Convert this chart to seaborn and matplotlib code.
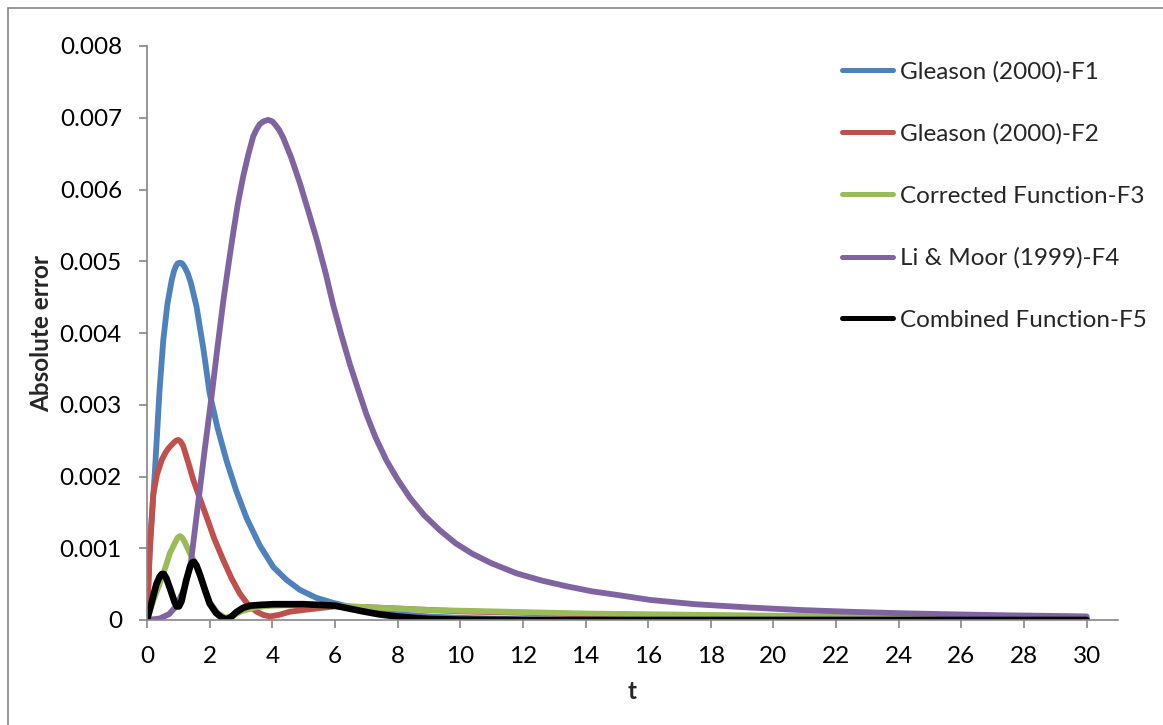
import matplotlib
matplotlib.use("Agg")
import matplotlib.pyplot as plt
import seaborn as sns
from matplotlib.lines import Line2D

# values (t, absolute error)
t_f1 = [0, 0.1, 0.25, 0.4, 0.52, 0.65, 0.79, 0.86, 0.92, 0.98, 1.05, 1.12, 1.2, 1.3, 1.4, 1.58,
        1.8, 2.0, 2.25, 2.54, 2.85, 3.18, 3.6, 4.03, 4.45, 4.88, 5.4, 5.93, 6.5, 7, 8, 9, 10, 12,
        15, 20, 25, 30]
f1 = [0, 0.0011, 0.00205, 0.0032, 0.0039, 0.0044, 0.00474, 0.00486, 0.00493, 0.00497, 0.00498,
      0.00497, 0.00492, 0.00483, 0.0047, 0.00437, 0.00378, 0.00316, 0.00268, 0.00222, 0.0018,
      0.00142, 0.00104, 0.00074, 0.00056, 0.00042, 0.00031, 0.00024, 0.00018, 0.00014, 0.00008,
      0.00005, 0.00003, 0.00001, 0, 0, 0, 0]

t_f2 = [0, 0.08, 0.2, 0.32, 0.47, 0.6, 0.7, 0.85, 0.93, 1.0, 1.07, 1.15, 1.3, 1.48, 1.7, 1.9,
        2.15, 2.43, 2.7, 2.96, 3.25, 3.5, 3.72, 3.92, 4.2, 4.56, 5.0, 5.4, 6.0, 7, 8, 10, 12, 14,
        16, 20, 25, 30]
f2 = [0, 0.0009, 0.00175, 0.00203, 0.00223, 0.00234, 0.0024, 0.00247, 0.0025, 0.00251, 0.00249,
      0.00243, 0.00222, 0.00195, 0.00168, 0.00144, 0.00113, 0.00084, 0.00058, 0.00037, 0.0002,
      0.000116, 0.00007, 0.00005, 0.00007, 0.000116, 0.00014, 0.00016, 0.00019, 0.00018, 0.00016,
      0.00012, 0.0001, 0.00008, 0.00007, 0.00005, 0.00003, 0.00002]

t_f3 = [0, 0.2, 0.41, 0.6, 0.73, 0.9, 0.98, 1.05, 1.12, 1.2, 1.37, 1.53, 1.69, 1.85, 2.0, 2.25,
        2.5, 2.75, 3.0, 3.5, 4.0, 5.0, 6.0, 7, 8, 9, 10, 12, 14, 16, 18, 20, 22, 24, 26, 28, 30]
f3 = [0, 0.00027, 0.00051, 0.00075, 0.00093, 0.00108, 0.00115, 0.00117, 0.00115, 0.00109,
      0.00093, 0.0008, 0.00062, 0.00042, 0.00025, 0.0001, 0.00003, 0.00006, 0.00012, 0.00018,
      0.0002, 0.00021, 0.0002, 0.00018, 0.00016, 0.00014, 0.00013, 0.00011, 0.00009, 0.00008,
      0.00007, 0.00006, 0.00005, 0.000045, 0.00004, 0.000035, 0.00003]

t_f4 = [0, 0.4, 0.7, 0.95, 1.2, 1.4, 1.64, 1.85, 2.06, 2.25, 2.44, 2.6, 2.75, 2.9, 3.07, 3.23,
        3.39, 3.5, 3.6, 3.72, 3.87, 4.0, 4.1, 4.22, 4.35, 4.6, 4.88, 5.15, 5.42, 5.7, 5.95, 6.2,
        6.48, 6.75, 7.01, 7.3, 7.65, 8.0, 8.4, 8.85, 9.35, 9.85, 10.4, 11.0, 11.8, 12.6, 13.4,
        14.2, 15.0, 16.06, 17.5, 19.2, 20.8, 22.4, 24, 25.6, 27.5, 30]
f4 = [0, 0.00002, 0.00008, 0.0002, 0.00045, 0.0008, 0.00165, 0.0024, 0.00311, 0.0038, 0.00446,
      0.00495, 0.00539, 0.0058, 0.00618, 0.00648, 0.00674, 0.00684, 0.00691, 0.00695, 0.00697,
      0.00695, 0.0069, 0.00683, 0.00672, 0.00645, 0.00609, 0.0057, 0.0053, 0.00484, 0.00438,
      0.00398, 0.00356, 0.0032, 0.00286, 0.00254, 0.00222, 0.00196, 0.0017, 0.00146, 0.00125,
      0.00107, 0.00092, 0.00079, 0.00065, 0.00055, 0.00047, 0.0004, 0.00035, 0.00028, 0.00022,
      0.000175, 0.00014, 0.000115, 0.000095, 0.00008, 0.000065, 0.00005]

t_f5 = [0, 0.15, 0.3, 0.4, 0.47, 0.54, 0.62, 0.75, 0.88, 0.95, 1.02, 1.1, 1.25, 1.38, 1.44, 1.5,
        1.58, 1.7, 1.85, 2.0, 2.2, 2.4, 2.54, 2.68, 2.85, 3.07, 3.3, 3.6, 4.03, 4.5, 5.0, 5.5,
        6.0, 6.45, 6.9, 7.4, 7.96, 8.5, 9.0, 10, 12, 15, 20, 25, 30]
f5 = [0, 0.00025, 0.0005, 0.0006, 0.00064, 0.00064, 0.00058, 0.00042, 0.00025, 0.00019, 0.00019,
      0.00026, 0.00055, 0.00075, 0.0008, 0.00081, 0.00076, 0.00062, 0.00042, 0.00023, 0.0001,
      0.00003, 0.00001, 0.00004, 0.00011, 0.00017, 0.0002, 0.00021, 0.00022, 0.00022, 0.00022,
      0.00021, 0.0002, 0.00016, 0.00012, 0.00008, 0.00005, 0.00003, 0.000015, 0.000005, 0, 0, 0,
      0, 0]

series = [
    ('Gleason (2000)-F1', t_f1, f1, '#4F81BD', 4.2),
    ('Gleason (2000)-F2', t_f2, f2, '#C0504D', 4.2),
    ('Corrected Function-F3', t_f3, f3, '#9BBB59', 4.2),
    ('Li & Moor (1999)-F4', t_f4, f4, '#8064A2', 4.2),
    ('Combined Function-F5', t_f5, f5, '#000000', 4.8),
]

x_ticks = list(range(0, 31, 2))
y_ticks = [0, 0.001, 0.002, 0.003, 0.004, 0.005, 0.006, 0.007, 0.008]
y_tick_labels = ['0', '0.001', '0.002', '0.003', '0.004', '0.005', '0.006', '0.007', '0.008']

sns.set_theme(style="white")
plt.rcParams['font.family'] = ['Lato', 'DejaVu Sans']

fig = plt.figure(figsize=(11.63, 7.25), dpi=100)
ax = fig.add_axes([147 / 1163, 105 / 725, (1118 - 147) / 1163, (620 - 46) / 725])

for name, tt, vv, color, lw in series:
    sns.lineplot(x=tt, y=vv, ax=ax, color=color, linewidth=lw, label=name,
                 estimator=None, sort=False, solid_capstyle='round', solid_joinstyle='round')

ax.set_xlim(0, 31)
ax.set_ylim(0, 0.008)
ax.set_xticks(x_ticks)
ax.set_yticks(y_ticks)
ax.set_yticklabels(y_tick_labels)

gray = '#868686'
for side in ['top', 'right']:
    ax.spines[side].set_visible(False)
for side in ['left', 'bottom']:
    ax.spines[side].set_color(gray)
    ax.spines[side].set_linewidth(1.2)
ax.tick_params(axis='both', which='major', direction='out', length=6, width=1.2,
               color=gray, labelsize=17.5, labelcolor='black', bottom=True, left=True)
ax.tick_params(axis='x', pad=13)
ax.tick_params(axis='y', pad=12)

ax.set_xlabel('t', fontsize=17.5, fontweight='bold', labelpad=9)
ax.set_ylabel('Absolute error', fontsize=17.5, fontweight='bold', labelpad=5)

handles = [Line2D([0], [0], color=c, linewidth=3.6, solid_capstyle='round') for _, _, _, c, _ in series]
labels = [s[0] for s in series]
ax.legend(handles, labels, loc='upper left', bbox_to_anchor=(842 / 1163, (725 - 61) / 725),
          bbox_transform=fig.transFigure, frameon=False, fontsize=17.5, borderpad=0,
          borderaxespad=0, handlelength=2.1, handletextpad=0.3, labelspacing=1.68)

# chart-area border (only top and left edges fall inside the picture)
fig.add_artist(Line2D([8 / 1163, 1.0], [1 - 8 / 725, 1 - 8 / 725], transform=fig.transFigure,
                      color=gray, linewidth=1.2))
fig.add_artist(Line2D([8 / 1163, 8 / 1163], [0, 1 - 8 / 725], transform=fig.transFigure,
                      color=gray, linewidth=1.2))

fig.savefig('out.png', dpi=100)
